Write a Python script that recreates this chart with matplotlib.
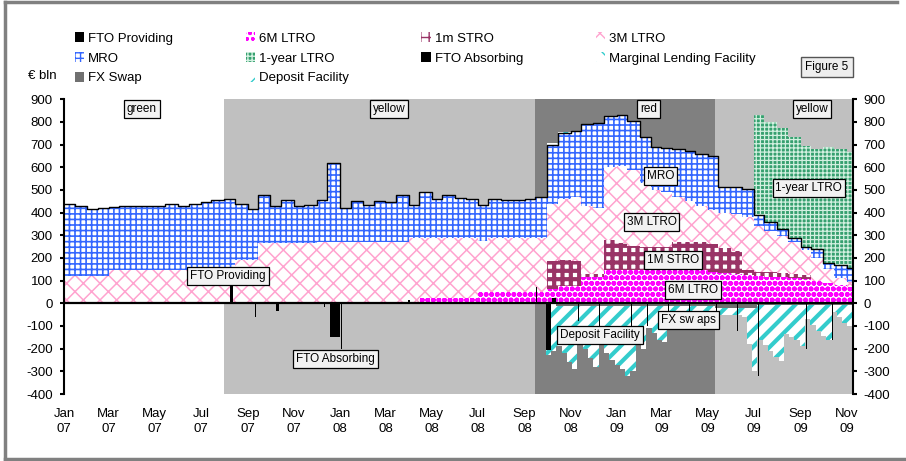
import matplotlib
matplotlib.use("Agg")
import matplotlib.pyplot as plt
import matplotlib.dates as mdates
from matplotlib.patches import Patch
from matplotlib.lines import Line2D
import numpy as np
import pandas as pd

plt.rcParams["font.family"] = ["Liberation Sans", "DejaVu Sans"]
plt.rcParams["axes.unicode_minus"] = False

# Liquidity-providing side, half-monthly (EUR bn)
HALF_MONTHS = pd.date_range("2007-01-01", "2009-11-15", freq="SMS")

ltro_6m = [0] * 31 + [25] * 5 + [50] * 6 + [65, 75, 75, 115, 115] + [145] * 9 + [
    140, 135, 130, 125, 120, 118, 115, 112, 108, 100, 90, 80, 72, 72]

stro_1m = [0] * 42 + [120, 115, 110, 15, 15, 135, 120, 110, 105, 105, 105, 125, 125, 125,
                      120, 110, 100, 20, 18, 18, 18, 18, 15, 0, 0, 0, 0, 0]

ltro_3m = [120, 120, 120, 120, 148, 148, 148, 148, 148, 148, 148, 148, 148, 148,
           150, 190, 190, 265, 265, 265, 265, 265, 270, 270, 270, 270, 270, 270,
           272, 272, 290, 265, 265, 265, 265, 265, 225, 240, 240, 240, 240, 240,
           255, 270, 285, 300, 290, 320, 340, 335, 280, 250, 240, 200, 180, 160,
           150, 155, 165, 235, 202, 184, 162, 140, 112, 100, 60, 30, 23, 23]

mro = [320, 310, 295, 300, 277, 282, 282, 282, 282, 292,
       282, 292, 297, 307, 310, 250, 225, 215, 165, 190,
       165, 170, 185, 350, 150, 180, 165, 180, 173, 208,
       145, 200, 170, 190, 175, 170, 160, 170, 165, 165,
       170, 180, 260, 290, 290, 360, 375, 225, 225, 215,
       205, 190, 195, 210, 220, 230, 240, 115, 120, 125,
       50, 40, 35, 20, 15, 40, 30, 60, 61, 61]

ltro_1y = [0] * 60 + [442] * 6 + [510] * 4

mlf = [0] * 42 + [8, 4] + [0] * 26

# Liquidity-absorbing side, weekly from end of Sep 2008 (EUR bn)
WEEKS = pd.date_range("2008-09-29", "2009-11-16", freq="7D")

fx_swap = [-5, -5] + [-12] * 30 + [-20] * 8 + [-8] * 20

deposit = [-225, -205, -178, -208, -248, -278, -138, -188, -228, -268,
           -168, -208, -238, -258, -278, -308, -288, -138, -188, -98,
           -118, -148, -158, -48, -33, -33, -33, -33, -33, -33,
           -33, -33, -20, -30, -30, -30, -30, -40, -160, -280,
           -152, -177, -202, -227, -247, -127, -142, -152, -182, -62,
           -87, -112, -137, -152, -32, -52, -77, -92, -92, -92]

# Fine-tuning operations (date, amount, duration in days)
fto_prov_dates = ["2007-08-09", "2008-03-31", "2008-09-16", "2008-10-08"]
fto_prov_values = [95, 15, 70, 25]
fto_prov_days = [3, 2, 2, 4]

fto_abs_dates = ["2007-09-11", "2007-10-09", "2007-12-11", "2007-12-19", "2008-01-02",
                 "2008-09-29", "2008-11-11", "2008-12-09", "2009-01-20", "2009-02-10",
                 "2009-03-10", "2009-04-07", "2009-05-12", "2009-06-09", "2009-07-07",
                 "2009-08-11", "2009-09-08", "2009-10-13"]
fto_abs_values = [-60, -35, -15, -150, -200, -205, -80, -120, -150, -100,
                  -60, -60, -60, -120, -320, -250, -200, -160]
fto_abs_days = [1.5, 3, 1, 13, 1.5, 7, 1, 1, 1, 1, 1, 1, 1, 1, 1, 1, 1, 1]

# Market stress regimes
regime_starts = ["2007-01-01", "2007-08-01", "2008-09-15", "2009-05-11"]
regime_ends = ["2007-08-01", "2008-09-15", "2009-05-11", "2009-11-30"]
regime_names = ["green", "yellow", "red", "yellow"]
regime_colors = ["white", "#C0C0C0", "#808080", "#C0C0C0"]

STYLE = {
    "6M LTRO": dict(face="white", hatch="ooo", color="#FF00FF", lw=1.8),
    "1m STRO": dict(face="white", hatch="++", color="#993366", lw=3.0),
    "3M LTRO": dict(face="white", hatch="xx", color="#FFA3CF", lw=1.1),
    "MRO": dict(face="white", hatch="+++", color="#3366FF", lw=1.2),
    "1-year LTRO": dict(face="#36A06F", hatch="++++", color="#D2F0E0", lw=0.9),
    "Marginal Lending Facility": dict(face="white", hatch="\\\\", color="#33CCCC", lw=2.5),
    "FX Swap": dict(face="#707070", hatch=None, color="#707070", lw=1.0),
    "Deposit Facility": dict(face="white", hatch="//", color="#33CCCC", lw=3.0),
}


def hatched_fill(ax, x, lower, upper, style, zorder=2):
    with plt.rc_context({"hatch.linewidth": style["lw"]}):
        coll = ax.fill_between(x, lower, upper, step="post", facecolor=style["face"],
                               hatch=style["hatch"], edgecolor=style["color"],
                               linewidth=0, zorder=zorder)
    if hasattr(coll, "set_hatch_linewidth"):
        coll.set_hatch_linewidth(style["lw"])
    return coll


def legend_patch(name, style):
    p = Patch(facecolor=style["face"], hatch=style["hatch"], edgecolor=style["color"],
              linewidth=0, label=name)
    return p


fig = plt.figure(figsize=(9.06, 4.61), dpi=100)
ax = fig.add_axes([64 / 906, 1 - 394 / 461, (852.7 - 64) / 906, (394 - 99.3) / 461])

for start, end, col in zip(regime_starts, regime_ends, regime_colors):
    ax.axvspan(pd.Timestamp(start), pd.Timestamp(end), color=col, lw=0, zorder=0)

# positive stack
level = np.zeros(len(HALF_MONTHS))
for name, series in [("6M LTRO", ltro_6m), ("1m STRO", stro_1m), ("3M LTRO", ltro_3m), ("MRO", mro)]:
    vals = np.array(series, dtype=float)
    hatched_fill(ax, HALF_MONTHS, level, level + vals, STYLE[name])
    level = level + vals
mro_top = level.copy()
for name, series in [("1-year LTRO", ltro_1y), ("Marginal Lending Facility", mlf)]:
    vals = np.array(series, dtype=float)
    hatched_fill(ax, HALF_MONTHS, level, level + vals, STYLE[name])
    level = level + vals
ax.step(HALF_MONTHS, mro_top, where="post", color="black", lw=1.0, zorder=3)

# negative stack
neg = np.zeros(len(WEEKS))
for name, series in [("FX Swap", fx_swap), ("Deposit Facility", deposit)]:
    vals = np.array(series, dtype=float)
    hatched_fill(ax, WEEKS, neg + vals, neg, STYLE[name])
    neg = neg + vals

ax.bar(mdates.date2num(pd.to_datetime(fto_prov_dates)), fto_prov_values, width=fto_prov_days,
       align="edge", color="black", lw=0, zorder=4)
ax.bar(mdates.date2num(pd.to_datetime(fto_abs_dates)), fto_abs_values, width=fto_abs_days,
       align="edge", color="black", lw=0, zorder=4)

ax.axhline(0, color="black", lw=1.6, zorder=5)

ax.set_xlim(pd.Timestamp("2007-01-01"), pd.Timestamp("2009-11-09"))
ax.set_ylim(-400, 900)
ax.set_yticks(range(-400, 901, 100))
ax.xaxis.set_major_locator(mdates.MonthLocator(bymonth=[1, 3, 5, 7, 9, 11]))
ax.xaxis.set_major_formatter(mdates.DateFormatter("%b\n%y"))
ax.tick_params(axis="x", length=0, pad=10, labelsize=9.5)
ax.tick_params(axis="y", direction="out", length=3, width=1.5, pad=5, labelsize=9.5,
               left=True, right=True, labelleft=True, labelright=True)
for lab in ax.get_xticklabels():
    lab.set_linespacing(1.35)
for side in ["top", "bottom"]:
    ax.spines[side].set_visible(False)
for side in ["left", "right"]:
    ax.spines[side].set_linewidth(1.5)
    ax.spines[side].set_zorder(6)

box = dict(boxstyle="square,pad=0.25", fc="#F2F2F2", ec="black", lw=0.9)
box_labels = [
    ("green", "2007-04-14", 857), ("yellow", "2008-03-06", 857),
    ("red", "2009-02-12", 857), ("yellow", "2009-09-16", 857),
    ("FTO Providing", "2007-08-06", 120), ("FTO Absorbing", "2007-12-26", -245),
    ("MRO", "2009-02-28", 563), ("3M LTRO", "2009-02-16", 357),
    ("1M STRO", "2009-03-16", 193), ("6M LTRO", "2009-04-12", 57),
    ("1-year LTRO", "2009-09-12", 508), ("Deposit Facility", "2008-12-10", -140),
    ("FX sw aps", "2009-04-06", -74),
]
for text, d, y in box_labels:
    ax.text(mdates.date2num(pd.Timestamp(d)), y, text, ha="center", va="center",
            fontsize=8.5, bbox=box, zorder=7)

# legend, filled column by column
fto_style = dict(face="black", hatch=None, color="black", lw=1.0)
order = [("FTO Providing", fto_style), ("MRO", STYLE["MRO"]), ("FX Swap", STYLE["FX Swap"]),
         ("6M LTRO", STYLE["6M LTRO"]), ("1-year LTRO", STYLE["1-year LTRO"]),
         ("Deposit Facility", STYLE["Deposit Facility"]),
         ("1m STRO", STYLE["1m STRO"]), ("FTO Absorbing", fto_style),
         ("3M LTRO", STYLE["3M LTRO"]),
         ("Marginal Lending Facility", STYLE["Marginal Lending Facility"])]
handles = [legend_patch(n, s) for n, s in order]
fig.legend(handles=handles, loc="upper left", bbox_to_anchor=(75 / 906, 1 - 32 / 461),
           ncol=4, frameon=False, fontsize=9.5, handlelength=0.7, handleheight=0.8,
           handletextpad=0.3, columnspacing=5.5, labelspacing=0.55, borderpad=0,
           borderaxespad=0)

fig.text(28 / 906, 1 - 76 / 461, "€ bln", fontsize=9.5, va="center")
fig.text(827 / 906, 1 - 67 / 461, "Figure 5", fontsize=8.5, ha="center", va="center",
         bbox=dict(boxstyle="square,pad=0.35", fc="#EEEEEE", ec="#555555", lw=1.0))

frame = dict(color="#808080", lw=2.5, transform=fig.transFigure)
fig.add_artist(Line2D([5 / 906, 5 / 906], [1 - 459 / 461, 1 - 2 / 461], **frame))
fig.add_artist(Line2D([5 / 906, 897 / 906], [1 - 2 / 461, 1 - 2 / 461], **frame))
fig.add_artist(Line2D([5 / 906, 1.0], [1 - 459 / 461, 1 - 459 / 461], **frame))

fig.savefig("out.png", dpi=100)
